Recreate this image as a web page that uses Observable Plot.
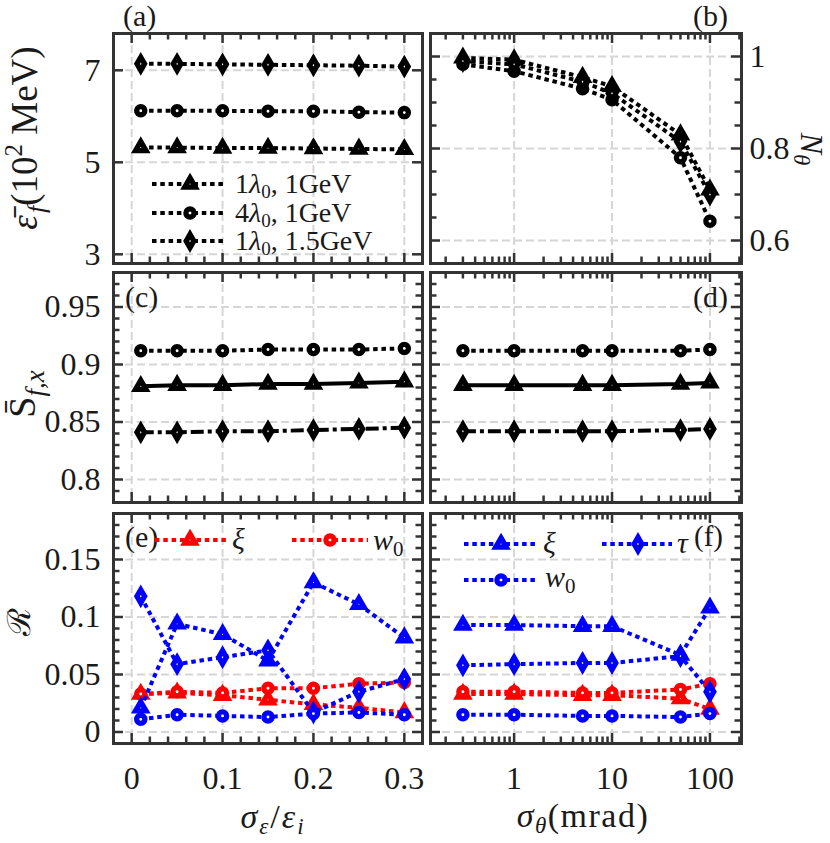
<!DOCTYPE html>
<html><head><meta charset="utf-8">
<script src="https://cdn.jsdelivr.net/npm/d3@7"></script>
<script src="https://cdn.jsdelivr.net/npm/@observablehq/plot@0.6"></script>
<style>
body{margin:0;background:#fff;}
#fig{position:relative;width:830px;height:843px;overflow:hidden;font-family:'Liberation Serif','Times New Roman',Times,'DejaVu Serif',serif;background:#fff;}
#fig svg{position:absolute;}
#fig text{font-family:'Liberation Serif','Times New Roman',Times,'DejaVu Serif',serif;}
#fig text.scr{font-family:'DejaVu Serif',serif;}
</style></head><body><div id="fig"></div>
<script>
// ---------- data ----------
const xEps = [0.01, 0.05, 0.1, 0.15, 0.2, 0.25, 0.3];
const xTheta = [0.3, 1, 5, 10, 50, 100];

// (a) mean final energy (10^2 MeV) vs sigma_eps/eps_i
const aTri  = [5.32, 5.32, 5.31, 5.31, 5.30, 5.29, 5.28];
const aCirc = [6.12, 6.12, 6.12, 6.11, 6.11, 6.09, 6.08];
const aDia  = [7.14, 7.14, 7.13, 7.12, 7.11, 7.10, 7.08];
// (b) N_theta vs sigma_theta
const bTri  = [0.997, 0.993, 0.955, 0.935, 0.83, 0.71];
const bCirc = [0.983, 0.968, 0.93, 0.906, 0.78, 0.642];
const bDia  = [0.99, 0.983, 0.945, 0.92, 0.815, 0.70];
// (c) S_fx vs sigma_eps/eps_i
const cCirc = [0.912, 0.912, 0.912, 0.913, 0.913, 0.913, 0.914];
const cTri  = [0.881, 0.882, 0.882, 0.883, 0.883, 0.884, 0.885];
const cDia  = [0.841, 0.841, 0.842, 0.842, 0.843, 0.844, 0.845];
// (d) S_fx vs sigma_theta
const dCirc = [0.912, 0.912, 0.912, 0.912, 0.912, 0.913];
const dTri  = [0.882, 0.882, 0.882, 0.882, 0.883, 0.884];
const dDia  = [0.842, 0.842, 0.842, 0.842, 0.843, 0.844];
// (e) R vs sigma_eps/eps_i
const eRedTri   = [0.033, 0.034, 0.032, 0.028, 0.024, 0.021, 0.017];
const eRedCirc  = [0.033, 0.035, 0.034, 0.038, 0.038, 0.042, 0.043];
const eBlueTri  = [0.021, 0.094, 0.085, 0.062, 0.130, 0.111, 0.082];
const eBlueDia  = [0.118, 0.059, 0.065, 0.071, 0.017, 0.035, 0.046];
const eBlueCirc = [0.011, 0.015, 0.014, 0.013, 0.016, 0.017, 0.015];
// (f) R vs sigma_theta
const fRedTri   = [0.033, 0.033, 0.032, 0.032, 0.029, 0.020];
const fRedCirc  = [0.035, 0.035, 0.034, 0.034, 0.037, 0.042];
const fBlueTri  = [0.093, 0.093, 0.092, 0.092, 0.067, 0.108];
const fBlueDia  = [0.058, 0.059, 0.060, 0.060, 0.066, 0.035];
const fBlueCirc = [0.015, 0.015, 0.014, 0.014, 0.013, 0.016];

// ---------- ticks ----------
const epsMajor = [0, 0.1, 0.2, 0.3];
const epsMinor = d3.range(1, 16).filter(i => i % 5 !== 0).map(i => i * 0.02);
const thetaMajor = [1, 10, 100];
const thetaMinor = [0.2,0.3,0.4,0.5,0.6,0.7,0.8,0.9, 2,3,4,5,6,7,8,9, 20,30,40,50,60,70,80,90, 200];
const aMajor = [3, 5, 7];
const bMajor = [0.6, 0.8, 1];
const bMinor = [0.65, 0.7, 0.75, 0.85, 0.9, 0.95];
const cMajor = [0.8, 0.85, 0.9, 0.95];
const cMinor = d3.range(79, 98).filter(i => i % 5 !== 0).map(i => i / 100);
const eMajor = [0, 0.05, 0.1, 0.15];
const eMinor = d3.range(1, 19).filter(i => i % 5 !== 0).map(i => i / 100);

const dashes = {dot: "4.5,3.8", solid: null, dashdot: "13,4,4,4"};
const R_ = "#ff0000", B_ = "#0000ff", K_ = "#000000";
const TXT = "#1a1a1a", FONT = "'Liberation Serif','Times New Roman',Times,'DejaVu Serif',serif";
const SYMR = {triangle: 3.9, circle: 4.1, diamond: 4.0};
const SYMW = 5.3;

function panel(o) {
  const innerW = o.W - o.mL - o.mR, innerH = o.H - o.mT - o.mB;
  const tick = {stroke: "#333", strokeWidth: 2.5};
  const grid = {stroke: "#d6d6d6", strokeWidth: 2, strokeDasharray: "8,4"};
  const marks = [
    Plot.ruleX(o.xMajor, {x: d => d, ...grid}),
    Plot.ruleY(o.yMajor, {y: d => d, ...grid})
  ];
  for (const s of o.series) {
    const data = s.x.map((x, i) => ({x, y: s.y[i]}));
    const lopt = {x: "x", y: "y", stroke: s.color, strokeWidth: 4, strokeLinecap: "butt"};
    if (dashes[s.dash]) lopt.strokeDasharray = dashes[s.dash];
    marks.push(Plot.line(data, lopt));
    marks.push(Plot.dot(data, {x: "x", y: "y", symbol: s.symbol, r: SYMR[s.symbol],
      stroke: s.color, strokeWidth: SYMW, fill: "white"}));
  }
  const tx = (arr, len) => [
    Plot.tickX(arr, {x: d => d, insetBottom: innerH - len, ...tick}),
    Plot.tickX(arr, {x: d => d, insetTop: innerH - len, ...tick})];
  const ty = (arr, len) => [
    Plot.tickY(arr, {y: d => d, insetRight: innerW - len, ...tick}),
    Plot.tickY(arr, {y: d => d, insetLeft: innerW - len, ...tick})];
  marks.push(...tx(o.xMajor, 10), ...tx(o.xMinor, 6.5), ...ty(o.yMajor, 10));
  if (o.yMinor) marks.push(...ty(o.yMinor, 6.5));
  if (o.yLabels === "left")
    marks.push(Plot.text(o.yMajor, {y: d => d, text: d => String(d), frameAnchor: "left", dx: -13,
      textAnchor: "end", lineAnchor: "middle", fontSize: 32, fontFamily: FONT, fill: TXT}));
  if (o.yLabels === "right")
    marks.push(Plot.text(o.yMajor, {y: d => d, text: d => String(d), frameAnchor: "right", dx: 8,
      textAnchor: "start", lineAnchor: "middle", fontSize: 32, fontFamily: FONT, fill: TXT}));
  if (o.xLabels)
    marks.push(Plot.text(o.xMajor, {x: d => d, text: d => String(d), frameAnchor: "bottom", dy: 23,
      lineAnchor: "top", fontSize: 32, fontFamily: FONT, fill: TXT}));
  marks.push(Plot.frame({stroke: "#333", strokeWidth: 3}));
  const svg = Plot.plot({
    width: o.W, height: o.H, marginLeft: o.mL, marginRight: o.mR, marginTop: o.mT, marginBottom: o.mB,
    x: {type: o.xType, domain: o.xDomain, axis: null},
    y: {type: "linear", domain: o.yDomain, axis: null},
    style: {background: "transparent", overflow: "visible", fontFamily: FONT},
    marks
  });
  svg.style.left = o.left + "px";
  svg.style.top = o.top + "px";
  document.getElementById("fig").appendChild(svg);
}

const colL = {left: 0, W: 425, mL: 113, mR: 3, xType: "linear", xDomain: [-0.02, 0.32], xMajor: epsMajor, xMinor: epsMinor};
const colR = {left: 420, W: 410, mL: 10, mR: 89, xType: "log", xDomain: [0.14, 210], xMajor: thetaMajor, xMinor: thetaMinor};
const rowA = {top: 23, H: 245, mT: 10, mB: 5};
const rowC = {top: 262, H: 245, mT: 10, mB: 5};
const rowE = {top: 503, H: 290, mT: 10, mB: 50};

const S = (x, y, color, symbol, dash) => ({x, y, color, symbol, dash});

panel({...colL, ...rowA, yDomain: [2.8, 7.8], yMajor: aMajor, yLabels: "left",
  series: [S(xEps, aTri, K_, "triangle", "dot"), S(xEps, aCirc, K_, "circle", "dot"), S(xEps, aDia, K_, "diamond", "dot")]});
panel({...colR, ...rowA, yDomain: [0.55, 1.05], yMajor: bMajor, yMinor: bMinor, yLabels: "right",
  series: [S(xTheta, bTri, K_, "triangle", "dot"), S(xTheta, bCirc, K_, "circle", "dot"), S(xTheta, bDia, K_, "diamond", "dot")]});
panel({...colL, ...rowC, yDomain: [0.78, 0.98], yMajor: cMajor, yMinor: cMinor, yLabels: "left",
  series: [S(xEps, cTri, K_, "triangle", "solid"), S(xEps, cCirc, K_, "circle", "dot"), S(xEps, cDia, K_, "diamond", "dashdot")]});
panel({...colR, ...rowC, yDomain: [0.78, 0.98], yMajor: cMajor, yMinor: cMinor,
  series: [S(xTheta, dTri, K_, "triangle", "solid"), S(xTheta, dCirc, K_, "circle", "dot"), S(xTheta, dDia, K_, "diamond", "dashdot")]});
panel({...colL, ...rowE, yDomain: [-0.01, 0.19], yMajor: eMajor, yMinor: eMinor, yLabels: "left", xLabels: true,
  series: [S(xEps, eRedTri, R_, "triangle", "dot"), S(xEps, eRedCirc, R_, "circle", "dot"),
           S(xEps, eBlueTri, B_, "triangle", "dot"), S(xEps, eBlueDia, B_, "diamond", "dot"), S(xEps, eBlueCirc, B_, "circle", "dot")]});
panel({...colR, ...rowE, yDomain: [-0.01, 0.19], yMajor: eMajor, yMinor: eMinor, xLabels: true,
  series: [S(xTheta, fRedTri, R_, "triangle", "dot"), S(xTheta, fRedCirc, R_, "circle", "dot"),
           S(xTheta, fBlueTri, B_, "triangle", "dot"), S(xTheta, fBlueDia, B_, "diamond", "dot"), S(xTheta, fBlueCirc, B_, "circle", "dot")]});

// ---------- overlay: titles, panel labels, legends ----------
const symType = {triangle: d3.symbolTriangle, circle: d3.symbolCircle, diamond: d3.symbolDiamond};
function legendEntry(x1, x2, mx, y, color, sym) {
  const r = SYMR[sym];
  const path = d3.symbol().type(symType[sym]).size(Math.PI * r * r)();
  return `<line x1="${x1}" x2="${x2}" y1="${y}" y2="${y}" stroke="${color}" stroke-width="4" stroke-dasharray="${dashes.dot}"/>
  <path d="${path}" transform="translate(${mx},${y})" fill="white" stroke="${color}" stroke-width="${SYMW}"/>`;
}
const sub = (t, fs, d) => `<tspan font-size="${fs}" dy="${d}">${t}</tspan>`;
const ov = `
<svg width="830" height="843" style="left:0;top:0;pointer-events:none" fill="${TXT}">
 <text x="123" y="26" font-size="30">(a)</text>
 <text x="693" y="26" font-size="30">(b)</text>
 <text x="125" y="307" font-size="30">(c)</text>
 <text x="693" y="307" font-size="30">(d)</text>
 <text x="125" y="547" font-size="30">(e)</text>

 <text transform="translate(37,138) rotate(-90)" text-anchor="middle" font-size="37"><tspan font-style="italic">ε̄</tspan><tspan font-style="italic" font-size="26" dy="8" dx="2">f</tspan><tspan dy="-8">(10</tspan><tspan font-size="25" dy="-15">2</tspan><tspan dy="15"> MeV)</tspan></text>
 <text transform="translate(35,394) rotate(-90)" text-anchor="middle" font-size="38"><tspan>S̄</tspan><tspan font-style="italic" font-size="27" dy="9">f,x</tspan></text>
 <text class="scr" transform="translate(30,622) rotate(-90)" text-anchor="middle" font-size="32">ℛ</text>
 <text transform="translate(801,149) rotate(90)" text-anchor="middle" font-size="32"><tspan font-style="italic">N</tspan><tspan font-style="italic" font-size="23" dy="7">θ</tspan></text>

 <text x="273" y="828" text-anchor="middle" font-size="34" letter-spacing="2"><tspan font-style="italic">σ</tspan><tspan font-style="italic" font-size="23" dy="6">ε</tspan><tspan dy="-6">/</tspan><tspan font-style="italic">ε</tspan><tspan font-style="italic" font-size="23" dy="6">i</tspan></text>
 <text x="583" y="827" text-anchor="middle" font-size="34" letter-spacing="1.5"><tspan font-style="italic">σ</tspan><tspan font-style="italic" font-size="23" dy="6">θ</tspan><tspan dy="-6">(mrad)</tspan></text>

 ${legendEntry(152, 225, 190, 184, K_, "triangle")}
 ${legendEntry(152, 225, 190, 213, K_, "circle")}
 ${legendEntry(152, 225, 190, 241, K_, "diamond")}
 <text x="235" y="193" font-size="28">1<tspan font-style="italic">λ</tspan>${sub("0", 19, 5)}<tspan dy="-5">, 1GeV</tspan></text>
 <text x="235" y="222" font-size="28">4<tspan font-style="italic">λ</tspan>${sub("0", 19, 5)}<tspan dy="-5">, 1GeV</tspan></text>
 <text x="235" y="250" font-size="28">1<tspan font-style="italic">λ</tspan>${sub("0", 19, 5)}<tspan dy="-5">, 1.5GeV</tspan></text>

 ${legendEntry(155, 227, 190, 540, R_, "triangle")}
 ${legendEntry(292, 368, 330, 540, R_, "circle")}
 <text x="232" y="549" font-size="30" font-style="italic">ξ</text>
 <text x="373" y="550" font-size="30"><tspan font-style="italic">w</tspan>${sub("0", 21, 6)}</text>

 ${legendEntry(464, 538, 501, 544, B_, "triangle")}
 ${legendEntry(602, 672, 638, 544, B_, "diamond")}
 ${legendEntry(464, 538, 501, 580, B_, "circle")}
 <text x="543" y="553" font-size="30" font-style="italic">ξ</text>
 <text x="677" y="553" font-size="30" font-style="italic">τ</text>
 <text x="694" y="546" font-size="29">(f)</text>
 <text x="545" y="587" font-size="30"><tspan font-style="italic">w</tspan>${sub("0", 21, 6)}</text>
</svg>`;
document.getElementById("fig").insertAdjacentHTML("beforeend", ov);
</script></body></html>
